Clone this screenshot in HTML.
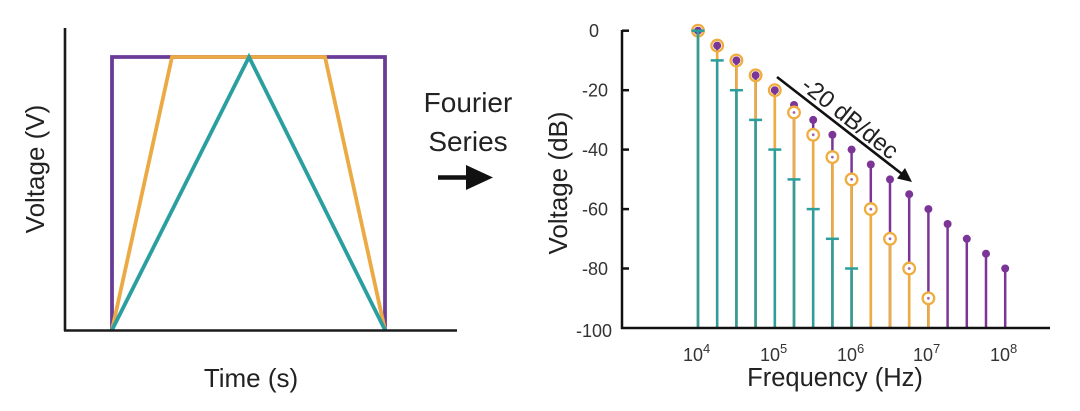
<!DOCTYPE html>
<html>
<head>
<meta charset="utf-8">
<style>
html,body{margin:0;padding:0;background:#fff;}
svg{display:block;}
text{font-family:"Liberation Sans",sans-serif;}
</style>
</head>
<body>
<svg width="1080" height="411" viewBox="0 0 1080 411" xmlns="http://www.w3.org/2000/svg">
<rect width="1080" height="411" fill="#fff"/>

<!-- LEFT CHART -->
<g fill="none" stroke-linejoin="miter">
  <polyline points="112,330 112,57 385,57 385,330" stroke="#6a3c98" stroke-width="3.8"/>
  <polyline points="112,330 172,57 325,57 385,330" stroke="#ecaa44" stroke-width="3.8"/>
  <polyline points="112,330 249,57 385,330" stroke="#2b9ea0" stroke-width="3.8"/>
  <line x1="65" y1="28" x2="65" y2="331" stroke="#1a1a1a" stroke-width="2.6"/>
  <line x1="64" y1="330.5" x2="457" y2="330.5" stroke="#1a1a1a" stroke-width="2.6"/>
</g>
<text x="251" y="387" font-size="26" text-anchor="middle" fill="#222">Time (s)</text>
<text transform="translate(44,169) rotate(-90)" font-size="26" text-anchor="middle" fill="#222">Voltage (V)</text>

<!-- Fourier Series -->
<text x="468" y="112" font-size="28" text-anchor="middle" fill="#222">Fourier</text>
<text x="468" y="151" font-size="28" text-anchor="middle" fill="#222">Series</text>
<line x1="438" y1="177.5" x2="470" y2="177.5" stroke="#111" stroke-width="4.5"/>
<polygon points="466,165 493,177.5 466,190" fill="#111"/>

<!-- RIGHT CHART -->
<!-- purple stems -->
<g stroke="#7b3596" stroke-width="2.5">
  <line x1="698" y1="328" x2="698" y2="30.7"/>
  <line x1="717.2" y1="328" x2="717.2" y2="45.6"/>
  <line x1="736.4" y1="328" x2="736.4" y2="60.4"/>
  <line x1="755.6" y1="328" x2="755.6" y2="75.3"/>
  <line x1="774.8" y1="328" x2="774.8" y2="90.2"/>
  <line x1="794" y1="328" x2="794" y2="105"/>
  <line x1="813.2" y1="328" x2="813.2" y2="119.9"/>
  <line x1="832.4" y1="328" x2="832.4" y2="134.8"/>
  <line x1="851.6" y1="328" x2="851.6" y2="149.6"/>
  <line x1="870.8" y1="328" x2="870.8" y2="164.5"/>
  <line x1="890" y1="328" x2="890" y2="179.4"/>
  <line x1="909.2" y1="328" x2="909.2" y2="194.2"/>
  <line x1="928.4" y1="328" x2="928.4" y2="209.1"/>
  <line x1="947.6" y1="328" x2="947.6" y2="224"/>
  <line x1="966.8" y1="328" x2="966.8" y2="238.8"/>
  <line x1="986" y1="328" x2="986" y2="253.7"/>
  <line x1="1005.2" y1="328" x2="1005.2" y2="268.5"/>
</g>
<g fill="#7b3596">
  <circle cx="698" cy="30.7" r="4"/>
  <circle cx="717.2" cy="45.6" r="4"/>
  <circle cx="736.4" cy="60.4" r="4"/>
  <circle cx="755.6" cy="75.3" r="4"/>
  <circle cx="774.8" cy="90.2" r="4"/>
  <circle cx="794" cy="105" r="4"/>
  <circle cx="813.2" cy="119.9" r="4"/>
  <circle cx="832.4" cy="134.8" r="4"/>
  <circle cx="851.6" cy="149.6" r="4"/>
  <circle cx="870.8" cy="164.5" r="4"/>
  <circle cx="890" cy="179.4" r="4"/>
  <circle cx="909.2" cy="194.2" r="4"/>
  <circle cx="928.4" cy="209.1" r="4"/>
  <circle cx="947.6" cy="224" r="4"/>
  <circle cx="966.8" cy="238.8" r="4"/>
  <circle cx="986" cy="253.7" r="4"/>
  <circle cx="1005.2" cy="268.5" r="4"/>
</g>
<!-- orange stems -->
<g stroke="#eead3e" stroke-width="2.5">
  <line x1="698" y1="328" x2="698" y2="36"/>
  <line x1="717.2" y1="328" x2="717.2" y2="51"/>
  <line x1="736.4" y1="328" x2="736.4" y2="66"/>
  <line x1="755.6" y1="328" x2="755.6" y2="81"/>
  <line x1="774.8" y1="328" x2="774.8" y2="96"/>
  <line x1="794" y1="328" x2="794" y2="112.5"/>
  <line x1="813.2" y1="328" x2="813.2" y2="134.8"/>
  <line x1="832.4" y1="328" x2="832.4" y2="157.1"/>
  <line x1="851.6" y1="328" x2="851.6" y2="179.4"/>
  <line x1="870.8" y1="328" x2="870.8" y2="209.1"/>
  <line x1="890" y1="328" x2="890" y2="238.8"/>
  <line x1="909.2" y1="328" x2="909.2" y2="268.5"/>
  <line x1="928.4" y1="328" x2="928.4" y2="298.3"/>
</g>
<g stroke="#eead3e" stroke-width="2.3" fill="none">
  <circle cx="698" cy="30.7" r="5.8"/>
  <circle cx="717.2" cy="45.6" r="5.8"/>
  <circle cx="736.4" cy="60.4" r="5.8"/>
  <circle cx="755.6" cy="75.3" r="5.8"/>
  <circle cx="774.8" cy="90.2" r="5.8"/>
</g>
<g stroke="#eead3e" stroke-width="2.3" fill="#fff">
  <circle cx="794" cy="112.5" r="5.8"/>
  <circle cx="813.2" cy="134.8" r="5.8"/>
  <circle cx="832.4" cy="157.1" r="5.8"/>
  <circle cx="851.6" cy="179.4" r="5.8"/>
  <circle cx="870.8" cy="209.1" r="5.8"/>
  <circle cx="890" cy="238.8" r="5.8"/>
  <circle cx="909.2" cy="268.5" r="5.8"/>
  <circle cx="928.4" cy="298.3" r="5.8"/>
</g>
<g fill="#9a6ab0">
  <circle cx="794" cy="112.5" r="1.4"/>
  <circle cx="813.2" cy="134.8" r="1.4"/>
  <circle cx="832.4" cy="157.1" r="1.4"/>
  <circle cx="851.6" cy="179.4" r="1.4"/>
  <circle cx="870.8" cy="209.1" r="1.4"/>
  <circle cx="890" cy="238.8" r="1.4"/>
  <circle cx="909.2" cy="268.5" r="1.4"/>
  <circle cx="928.4" cy="298.3" r="1.4"/>
</g>
<!-- teal stems -->
<g stroke="#2a9f9b" stroke-width="2.5">
  <line x1="698" y1="328" x2="698" y2="30.7"/>
  <line x1="717.2" y1="328" x2="717.2" y2="60.4"/>
  <line x1="736.4" y1="328" x2="736.4" y2="90.2"/>
  <line x1="755.6" y1="328" x2="755.6" y2="119.9"/>
  <line x1="774.8" y1="328" x2="774.8" y2="149.6"/>
  <line x1="794" y1="328" x2="794" y2="179.4"/>
  <line x1="813.2" y1="328" x2="813.2" y2="209.1"/>
  <line x1="832.4" y1="328" x2="832.4" y2="238.8"/>
  <line x1="851.6" y1="328" x2="851.6" y2="268.5"/>
  <line x1="691.5" y1="30.7" x2="704.5" y2="30.7"/>
  <line x1="710.7" y1="60.4" x2="723.7" y2="60.4"/>
  <line x1="729.9" y1="90.2" x2="742.9" y2="90.2"/>
  <line x1="749.1" y1="119.9" x2="762.1" y2="119.9"/>
  <line x1="768.3" y1="149.6" x2="781.3" y2="149.6"/>
  <line x1="787.5" y1="179.4" x2="800.5" y2="179.4"/>
  <line x1="806.7" y1="209.1" x2="819.7" y2="209.1"/>
  <line x1="825.9" y1="238.8" x2="838.9" y2="238.8"/>
  <line x1="845.1" y1="268.5" x2="858.1" y2="268.5"/>
</g>

<!-- axes -->
<g stroke="#111" stroke-width="2.5" fill="none">
  <line x1="622" y1="30" x2="622" y2="329"/>
  <line x1="621" y1="328" x2="1050" y2="328"/>
  <line x1="622" y1="30.7" x2="629" y2="30.7"/>
  <line x1="622" y1="90.2" x2="629" y2="90.2"/>
  <line x1="622" y1="149.6" x2="629" y2="149.6"/>
  <line x1="622" y1="209.1" x2="629" y2="209.1"/>
  <line x1="622" y1="268.5" x2="629" y2="268.5"/>
</g>
<g font-size="18" fill="#333" text-anchor="middle">
  <text x="594" y="37">0</text>
  <text x="595" y="96.5">-20</text>
  <text x="595" y="156">-40</text>
  <text x="595" y="215.5">-60</text>
  <text x="595" y="275">-80</text>
  <text x="594" y="337">-100</text>
</g>
<g font-size="18" fill="#333">
  <text x="683" y="361">10<tspan font-size="13" dy="-8">4</tspan></text>
  <text x="760" y="361">10<tspan font-size="13" dy="-8">5</tspan></text>
  <text x="837" y="361">10<tspan font-size="13" dy="-8">6</tspan></text>
  <text x="913" y="361">10<tspan font-size="13" dy="-8">7</tspan></text>
  <text x="990" y="361">10<tspan font-size="13" dy="-8">8</tspan></text>
</g>
<text x="835" y="386" font-size="25.5" text-anchor="middle" fill="#222">Frequency (Hz)</text>
<text transform="translate(567,183) rotate(-90)" font-size="26" text-anchor="middle" fill="#222">Voltage (dB)</text>

<!-- annotation -->
<line x1="777" y1="77" x2="902" y2="174" stroke="#111" stroke-width="2.6"/>
<polygon points="912,182 897,178.5 905,168" fill="#111"/>
<text transform="translate(850,118) rotate(38.5)" font-size="24" text-anchor="middle" y="8" fill="#222">-20 dB/dec</text>
</svg>
</body>
</html>
